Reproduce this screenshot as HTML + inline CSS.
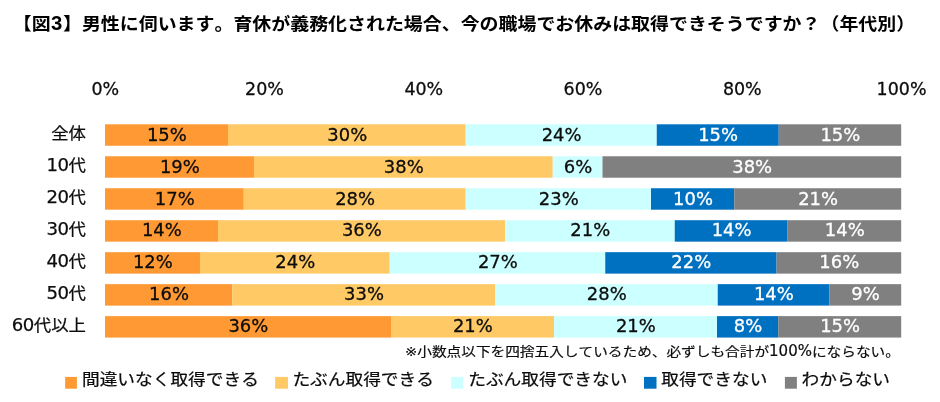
<!DOCTYPE html>
<html lang="ja">
<head>
<meta charset="utf-8">
<title>図3 育休が義務化された場合、今の職場でお休みは取得できそうですか（年代別）</title>
<style>
html,body{margin:0;padding:0;background:#fff;}
body{width:940px;height:402px;overflow:hidden;position:relative;
 font-family:"DejaVu Sans","Liberation Sans","Noto Sans CJK JP",sans-serif;
 color:#0c0c0c;text-spacing-trim:space-all;font-kerning:none;}
svg{display:block;position:absolute;left:0;top:0;}
svg text{font-family:"DejaVu Sans","Liberation Sans","Noto Sans CJK JP",sans-serif;}
.ax{font-size:18.5px;fill:#0c0c0c;stroke:#0c0c0c;stroke-width:0.3px;text-anchor:middle;}
.v{font-size:18.5px;stroke-width:0.3px;text-anchor:middle;}
.lg{font-size:17.7px;fill:#0c0c0c;stroke:#0c0c0c;stroke-width:0.25px;}
.h{position:absolute;white-space:nowrap;line-height:0;height:20px;margin:0;}
.h::before,.j::before{content:"";display:inline-block;width:0;height:20px;vertical-align:baseline;}
.j::before{height:12px;}
.j{display:inline-block;line-height:0;vertical-align:baseline;transform-origin:0 100%;}
.title{color:#000;font-weight:bold;font-size:18.96px;left:11.8px;top:10px;}
.title .n3{font-family:"Liberation Sans",sans-serif;font-size:20.3px;margin:0 0.6px 0 0.4px;}
.note .nl{font-size:15px;}
.title .j{transform:scaleY(0.925);}
.cat{-webkit-text-stroke:0.25px #0c0c0c;font-size:18.1px;right:854.0px;text-align:right;}
.cat .d{letter-spacing:-0.45px;}
.cat .j{font-size:17.4px;transform:scaleY(0.94);}
.note{-webkit-text-stroke:0.2px #0c0c0c;font-size:14.67px;left:405px;top:336px;}
.note .j{transform:scaleY(0.865);}
</style>
</head>
<body>
<svg width="940" height="402" viewBox="0 0 940 402">
<rect x="0" y="0" width="940" height="402" fill="#ffffff"/>
<text class="ax" transform="translate(105.3,94.8) scale(0.945,1)">0%</text>
<text class="ax" transform="translate(264.5,94.8) scale(0.945,1)">20%</text>
<text class="ax" transform="translate(423.8,94.8) scale(0.945,1)">40%</text>
<text class="ax" transform="translate(583.0,94.8) scale(0.945,1)">60%</text>
<text class="ax" transform="translate(742.3,94.8) scale(0.945,1)">80%</text>
<text class="ax" transform="translate(901.5,94.8) scale(0.945,1)">100%</text>
<g>
<rect x="105.00" y="124.30" width="123.00" height="21.45" fill="#ff9933"/>
<rect x="228.00" y="124.30" width="237.75" height="21.45" fill="#ffc966"/>
<rect x="465.75" y="124.30" width="191.00" height="21.45" fill="#ccffff"/>
<rect x="656.75" y="124.30" width="122.00" height="21.45" fill="#0070c0"/>
<rect x="778.75" y="124.30" width="122.45" height="21.45" fill="#808080"/>
<text class="v" transform="translate(166.9,140.5) scale(0.97,1)" fill="#0c0c0c" stroke="#0c0c0c">15%</text>
<text class="v" transform="translate(347.3,140.5) scale(0.97,1)" fill="#0c0c0c" stroke="#0c0c0c">30%</text>
<text class="v" transform="translate(561.6,140.5) scale(0.97,1)" fill="#0c0c0c" stroke="#0c0c0c">24%</text>
<text class="v" transform="translate(718.1,140.5) scale(0.97,1)" fill="#fff" stroke="#fff">15%</text>
<text class="v" transform="translate(840.4,140.5) scale(0.97,1)" fill="#fff" stroke="#fff">15%</text>
</g>
<g>
<rect x="105.00" y="156.27" width="149.00" height="21.45" fill="#ff9933"/>
<rect x="254.00" y="156.27" width="298.75" height="21.45" fill="#ffc966"/>
<rect x="552.75" y="156.27" width="49.75" height="21.45" fill="#ccffff"/>
<rect x="602.50" y="156.27" width="298.70" height="21.45" fill="#808080"/>
<text class="v" transform="translate(179.9,172.5) scale(0.97,1)" fill="#0c0c0c" stroke="#0c0c0c">19%</text>
<text class="v" transform="translate(403.8,172.5) scale(0.97,1)" fill="#0c0c0c" stroke="#0c0c0c">38%</text>
<text class="v" transform="translate(578.0,172.5) scale(0.97,1)" fill="#0c0c0c" stroke="#0c0c0c">6%</text>
<text class="v" transform="translate(752.2,172.5) scale(0.97,1)" fill="#fff" stroke="#fff">38%</text>
</g>
<g>
<rect x="105.00" y="188.24" width="138.75" height="21.45" fill="#ff9933"/>
<rect x="243.75" y="188.24" width="222.00" height="21.45" fill="#ffc966"/>
<rect x="465.75" y="188.24" width="185.25" height="21.45" fill="#ccffff"/>
<rect x="651.00" y="188.24" width="83.25" height="21.45" fill="#0070c0"/>
<rect x="734.25" y="188.24" width="166.95" height="21.45" fill="#808080"/>
<text class="v" transform="translate(174.8,204.5) scale(0.97,1)" fill="#0c0c0c" stroke="#0c0c0c">17%</text>
<text class="v" transform="translate(355.1,204.5) scale(0.97,1)" fill="#0c0c0c" stroke="#0c0c0c">28%</text>
<text class="v" transform="translate(558.8,204.5) scale(0.97,1)" fill="#0c0c0c" stroke="#0c0c0c">23%</text>
<text class="v" transform="translate(693.0,204.5) scale(0.97,1)" fill="#fff" stroke="#fff">10%</text>
<text class="v" transform="translate(818.1,204.5) scale(0.97,1)" fill="#fff" stroke="#fff">21%</text>
</g>
<g>
<rect x="105.00" y="220.21" width="113.00" height="21.45" fill="#ff9933"/>
<rect x="218.00" y="220.21" width="287.00" height="21.45" fill="#ffc966"/>
<rect x="505.00" y="220.21" width="169.75" height="21.45" fill="#ccffff"/>
<rect x="674.75" y="220.21" width="112.85" height="21.45" fill="#0070c0"/>
<rect x="787.60" y="220.21" width="113.60" height="21.45" fill="#808080"/>
<text class="v" transform="translate(161.9,236.4) scale(0.97,1)" fill="#0c0c0c" stroke="#0c0c0c">14%</text>
<text class="v" transform="translate(361.9,236.4) scale(0.97,1)" fill="#0c0c0c" stroke="#0c0c0c">36%</text>
<text class="v" transform="translate(590.3,236.4) scale(0.97,1)" fill="#0c0c0c" stroke="#0c0c0c">21%</text>
<text class="v" transform="translate(731.6,236.4) scale(0.97,1)" fill="#fff" stroke="#fff">14%</text>
<text class="v" transform="translate(844.8,236.4) scale(0.97,1)" fill="#fff" stroke="#fff">14%</text>
</g>
<g>
<rect x="105.00" y="252.18" width="95.00" height="21.45" fill="#ff9933"/>
<rect x="200.00" y="252.18" width="189.75" height="21.45" fill="#ffc966"/>
<rect x="389.75" y="252.18" width="215.50" height="21.45" fill="#ccffff"/>
<rect x="605.25" y="252.18" width="171.35" height="21.45" fill="#0070c0"/>
<rect x="776.60" y="252.18" width="124.60" height="21.45" fill="#808080"/>
<text class="v" transform="translate(152.9,268.4) scale(0.97,1)" fill="#0c0c0c" stroke="#0c0c0c">12%</text>
<text class="v" transform="translate(295.3,268.4) scale(0.97,1)" fill="#0c0c0c" stroke="#0c0c0c">24%</text>
<text class="v" transform="translate(497.9,268.4) scale(0.97,1)" fill="#0c0c0c" stroke="#0c0c0c">27%</text>
<text class="v" transform="translate(691.3,268.4) scale(0.97,1)" fill="#fff" stroke="#fff">22%</text>
<text class="v" transform="translate(839.3,268.4) scale(0.97,1)" fill="#fff" stroke="#fff">16%</text>
</g>
<g>
<rect x="105.00" y="284.15" width="127.25" height="21.45" fill="#ff9933"/>
<rect x="232.25" y="284.15" width="262.75" height="21.45" fill="#ffc966"/>
<rect x="495.00" y="284.15" width="222.75" height="21.45" fill="#ccffff"/>
<rect x="717.75" y="284.15" width="111.50" height="21.45" fill="#0070c0"/>
<rect x="829.25" y="284.15" width="71.95" height="21.45" fill="#808080"/>
<text class="v" transform="translate(169.0,300.4) scale(0.97,1)" fill="#0c0c0c" stroke="#0c0c0c">16%</text>
<text class="v" transform="translate(364.0,300.4) scale(0.97,1)" fill="#0c0c0c" stroke="#0c0c0c">33%</text>
<text class="v" transform="translate(606.8,300.4) scale(0.97,1)" fill="#0c0c0c" stroke="#0c0c0c">28%</text>
<text class="v" transform="translate(773.9,300.4) scale(0.97,1)" fill="#fff" stroke="#fff">14%</text>
<text class="v" transform="translate(865.6,300.4) scale(0.97,1)" fill="#fff" stroke="#fff">9%</text>
</g>
<g>
<rect x="105.00" y="316.12" width="286.00" height="21.45" fill="#ff9933"/>
<rect x="391.00" y="316.12" width="163.00" height="21.45" fill="#ffc966"/>
<rect x="554.00" y="316.12" width="163.00" height="21.45" fill="#ccffff"/>
<rect x="717.00" y="316.12" width="61.25" height="21.45" fill="#0070c0"/>
<rect x="778.25" y="316.12" width="122.95" height="21.45" fill="#808080"/>
<text class="v" transform="translate(248.4,332.3) scale(0.97,1)" fill="#0c0c0c" stroke="#0c0c0c">36%</text>
<text class="v" transform="translate(472.9,332.3) scale(0.97,1)" fill="#0c0c0c" stroke="#0c0c0c">21%</text>
<text class="v" transform="translate(635.9,332.3) scale(0.97,1)" fill="#0c0c0c" stroke="#0c0c0c">21%</text>
<text class="v" transform="translate(748.0,332.3) scale(0.97,1)" fill="#fff" stroke="#fff">8%</text>
<text class="v" transform="translate(840.1,332.3) scale(0.97,1)" fill="#fff" stroke="#fff">15%</text>
</g>
<rect x="65.15" y="376.9" width="11.75" height="11.8" fill="#ff9933"/>
<text class="lg" transform="translate(82.0,385.3) scale(1,0.93)">間違いなく取得できる</text>
<rect x="275.15" y="376.9" width="12.80" height="11.8" fill="#ffc966"/>
<text class="lg" transform="translate(292.4,385.3) scale(1,0.93)">たぶん取得できる</text>
<rect x="451.00" y="376.9" width="12.10" height="11.8" fill="#ccffff"/>
<text class="lg" transform="translate(468.2,385.3) scale(1,0.93)">たぶん取得できない</text>
<rect x="644.00" y="376.9" width="12.50" height="11.8" fill="#0070c0"/>
<text class="lg" transform="translate(661.2,385.3) scale(1,0.93)">取得できない</text>
<rect x="784.90" y="376.9" width="12.00" height="11.8" fill="#808080"/>
<text class="lg" transform="translate(801.6,385.3) scale(1,0.93)">わからない</text>
</svg>
<div class="h title"><span class="j" style="margin-left:1px">【図</span><span class="n3">3</span><span class="j">】男性に伺います。育休が義務化された場合、今の職場でお休みは取得できそうですか？（年代別）</span></div>
<div class="h cat" style="top:119px"><span class="j">全体</span></div>
<div class="h cat" style="top:151px"><span class="d">10</span><span class="j">代</span></div>
<div class="h cat" style="top:183px"><span class="d">20</span><span class="j">代</span></div>
<div class="h cat" style="top:215px"><span class="d">30</span><span class="j">代</span></div>
<div class="h cat" style="top:247px"><span class="d">40</span><span class="j">代</span></div>
<div class="h cat" style="top:279px"><span class="d">50</span><span class="j">代</span></div>
<div class="h cat" style="top:311px"><span class="d">60</span><span class="j">代以上</span></div>
<div class="h note"><span class="j">※小数点以下を四捨五入しているため、必ずしも合計が</span><span class="nl">100%</span><span class="j">にならない。</span></div>
</body>
</html>
